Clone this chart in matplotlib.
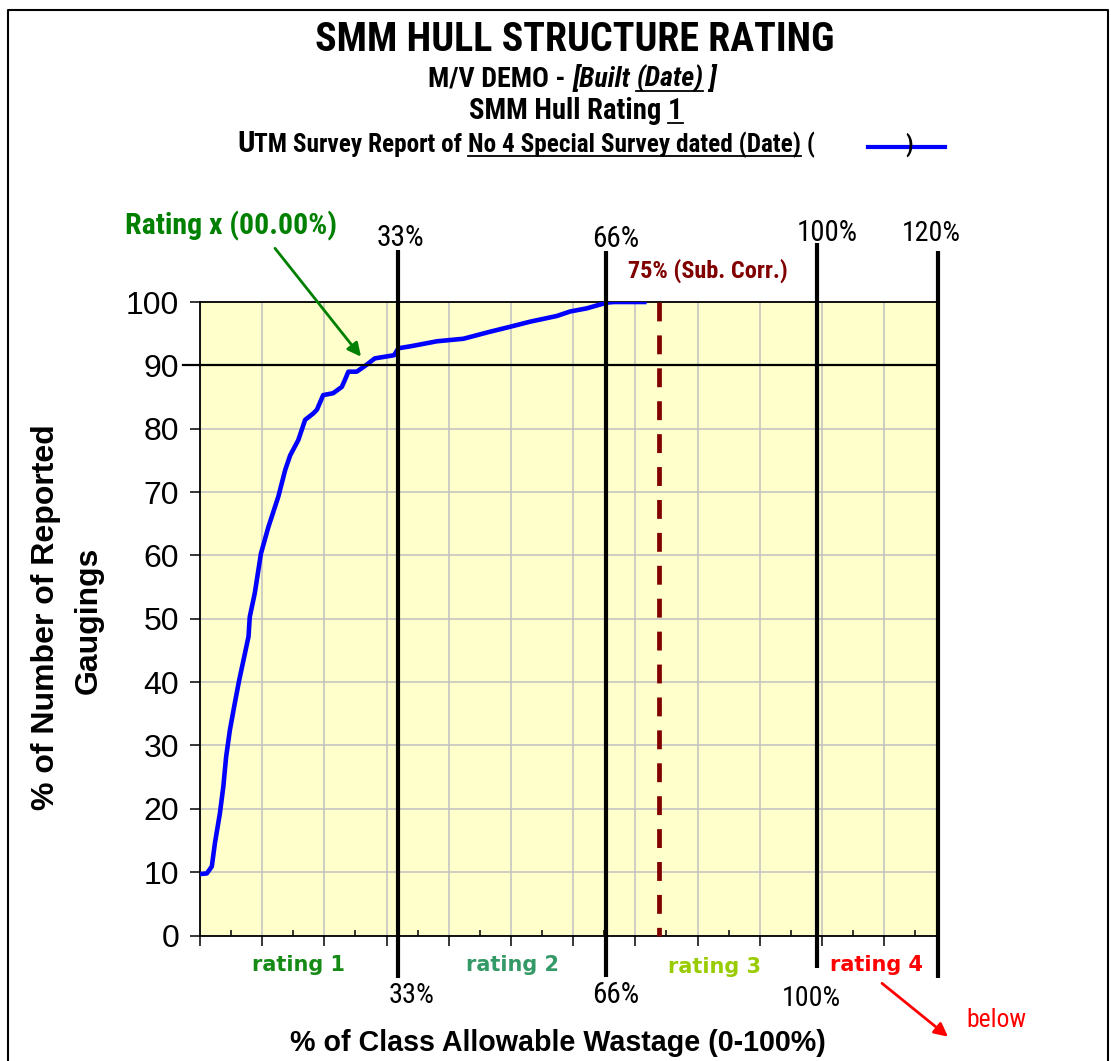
import matplotlib
matplotlib.use('Agg')
import matplotlib.pyplot as plt
from matplotlib import font_manager as fm
from matplotlib.lines import Line2D
from matplotlib.transforms import IdentityTransform, blended_transform_factory
from matplotlib.ticker import MultipleLocator, NullFormatter, FixedLocator

# ---------------- data ----------------
wastage = [0, 1.1, 1.9, 2.4, 3.2, 3.75, 4.2, 4.8, 5.6, 6.3, 7.0, 7.8, 8.0, 8.8, 9.8,
           11.0, 12.6, 13.7, 14.5, 15.8, 16.9, 18.2, 18.8, 19.8, 21.4, 22.8, 23.3,
           23.85, 25.2, 26.8, 28.1, 30.6, 31.2, 31.9, 33.8, 38.1, 42.35, 46.6, 49.9,
           53.1, 57.4, 59.5, 62.2, 65.4, 66.5, 71.8]
gaugings = [9.7, 9.8, 10.9, 14.6, 19.3, 23.5, 28.2, 32.4, 36.7, 40.3, 43.5, 47.2, 50.3,
            54.0, 60.3, 64.5, 69.3, 73.5, 75.8, 78.2, 81.4, 82.4, 83.0, 85.3, 85.6,
            86.6, 87.7, 89.0, 89.0, 90.1, 91.1, 91.5, 91.6, 92.7, 93.0, 93.8, 94.2,
            95.3, 96.1, 96.9, 97.8, 98.5, 99.0, 99.9, 100.0, 100.0]
threshold_labels = ['33%', '66%', '100%', '120%']
threshold_x = [31.8, 65.3, 99.2, 118.7]
sub_corr_x = 73.8
sub_corr_label = '75% (Sub. Corr.)'
rating_labels = ['rating 1', 'rating 2', 'rating 3', 'rating 4']
y_ticks = [0, 10, 20, 30, 40, 50, 60, 70, 80, 90, 100]
x_max = 118.7
ref_level = 90

# ---------------- fonts ----------------
avail = {f.name for f in fm.fontManager.ttflist}
narrow_name = 'DejaVu Sans'
for cand in ['Liberation Sans Narrow', 'Arial Narrow', 'Roboto Condensed',
             'Barlow Semi Condensed', 'Asap Condensed']:
    if cand in avail:
        narrow_name = cand
        break
NARROW = [narrow_name, 'Liberation Sans', 'DejaVu Sans']
ARIAL = ['Liberation Sans', 'DejaVu Sans']
VERD = ['DejaVu Sans']

W, H = 1111, 1061
fig = plt.figure(figsize=(W / 100, H / 100), dpi=100)
fig.patch.set_facecolor('white')
renderer = fig.canvas.get_renderer()


def fx(x):
    return x / W


def fy(y):
    return 1 - y / H


def place(x, y, s, target_w, size0, ha='left', **props):
    """Figure text at pixel (x, baseline y), font size fitted to target width."""
    t = fig.text(fx(x), fy(y), s, ha=ha, va='baseline', fontsize=size0, **props)
    w = t.get_window_extent(renderer).width
    t.set_fontsize(size0 * target_w / w)
    return t


ax = fig.add_axes([fx(200), fy(935.5), (938.3 - 200) / W, (935.5 - 302) / H])
ax.set_facecolor('#FFFFCC')
ax.set_xlim(0, x_max)
ax.set_ylim(0, 100)
ax.xaxis.set_major_locator(MultipleLocator(10))
ax.xaxis.set_minor_locator(MultipleLocator(5))
ax.xaxis.set_major_formatter(NullFormatter())
ax.yaxis.set_major_locator(FixedLocator(y_ticks))
ax.set_yticklabels([str(v) for v in y_ticks], fontfamily=ARIAL, fontsize=23)
ax.grid(which='major', color='#c0c0c0', lw=1.1, zorder=0)
ax.set_axisbelow(True)
ax.tick_params(axis='x', which='major', direction='out', length=7, width=1.1)
ax.tick_params(axis='x', which='minor', direction='in', length=4.5, width=1.1)
ax.tick_params(axis='y', which='major', direction='out', length=7, width=1.1, pad=8)
for s in ['left', 'bottom', 'top', 'right']:
    ax.spines[s].set_color('black')
    ax.spines[s].set_linewidth(1.3)

# curve
ax.plot(wastage, gaugings, color='#0000FF', lw=3.3, zorder=5, solid_joinstyle='round',
        solid_capstyle='butt')

# 90% reference line
ref_tr = blended_transform_factory(fig.transFigure, ax.transData)
ax.plot([fx(183), fx(938.3)], [ref_level, ref_level], transform=ref_tr, color='black',
        lw=1.6, clip_on=False, zorder=6)

# vertical threshold lines
vt = blended_transform_factory(ax.transData, fig.transFigure)
line_spans = [(250, 978), (251, 977), (243, 968), (251, 978)]
for xv, (y0, y1) in zip(threshold_x, line_spans):
    ax.plot([xv, xv], [fy(y0), fy(y1)], transform=vt, color='black', lw=3.0,
            clip_on=False, zorder=7, solid_capstyle='butt')

# sub corrosion dashed line
ax.plot([sub_corr_x, sub_corr_x], [100, 0], color='#800000', lw=3.4,
        linestyle=(0, (4.0, 2.97)), zorder=6, clip_on=False)

# threshold labels (top and bottom)
top_pos = [(400, 246, 48), (616, 247, 47), (827, 241, 61), (931, 241, 59)]
for lab, (px, py, tw) in zip(threshold_labels, top_pos):
    place(px, py, lab, tw, 20, ha='center', fontfamily=NARROW, color='black')
bot_pos = [(412, 1003, 46), (616, 1003, 47), (811, 1006, 59)]
for lab, (px, py, tw) in zip(threshold_labels[:3], bot_pos):
    place(px, py, lab, tw, 20, ha='center', fontfamily=NARROW, color='black')

place(628, 278, sub_corr_label, 160, 17, fontweight='bold', fontfamily=NARROW,
      color='#800000')

# rating labels
rating_colors = ['#158a15', '#339966', '#99cc00', '#ff0000']
rating_pos = [(298, 971), (513, 971), (715, 973), (876, 971)]
for lab, c, (px, py) in zip(rating_labels, rating_colors, rating_pos):
    fig.text(fx(px), fy(py), lab, ha='center', va='baseline', fontsize=15,
             fontweight='bold', fontfamily=VERD, color=c)

# rating x annotation
place(125, 234, 'Rating x (00.00%)', 212, 20, fontweight='bold', fontfamily=NARROW,
      color='#008000')
ax.annotate('', xy=(361, H - 356.7), xycoords='figure pixels', xytext=(275, H - 248.3),
            textcoords='figure pixels',
            arrowprops=dict(arrowstyle='-|>', color='#008000', lw=2,
                            mutation_scale=20, shrinkA=0, shrinkB=0), zorder=8)

# below annotation
place(966, 1027, 'below', 60, 18, fontfamily=NARROW, color='#ff0000')
ax.annotate('', xy=(948, H - 1036.7), xycoords='figure pixels', xytext=(882, H - 983.3),
            textcoords='figure pixels',
            arrowprops=dict(arrowstyle='-|>', color='#ff0000', lw=2,
                            mutation_scale=20, shrinkA=0, shrinkB=0), zorder=8)

# axis labels
place(558, 1051, '% of Class Allowable Wastage (0-100%)', 535, 20, ha='center',
      fontweight='bold', fontfamily=ARIAL)
fig.text(fx(46), fy(617), '% of Number of Reported', ha='center', va='center',
         rotation=90, fontsize=23, fontweight='bold', fontfamily=ARIAL)
fig.text(fx(89), fy(620), 'Gaugings', ha='center', va='center',
         rotation=90, fontsize=23, fontweight='bold', fontfamily=ARIAL)


# ---------------- title block ----------------
def text_run(pieces, y_base, target_w, x_left=None, x_center=None):
    arts, widths = [], []
    for s, props, ul in pieces:
        t = fig.text(0, fy(y_base), s, va='baseline', ha='left', **props)
        arts.append(t)
        widths.append(t.get_window_extent(renderer).width)
    k = target_w / sum(widths)
    widths = []
    for t in arts:
        t.set_fontsize(t.get_fontsize() * k)
        widths.append(t.get_window_extent(renderer).width)
    total = sum(widths)
    x = x_left if x_left is not None else x_center - total / 2
    for t, w, (s, props, ul) in zip(arts, widths, pieces):
        t.set_x(fx(x))
        if ul:
            yl = H - (y_base + 4)
            fig.add_artist(Line2D([x, x + w], [yl, yl], transform=IdentityTransform(),
                                  color='black', lw=1.3))
        x += w
    return x


B = dict(fontweight='bold', fontfamily=NARROW, color='black')
place(575, 51, 'SMM HULL STRUCTURE RATING', 520, 24, ha='center', **B)
text_run([('M/V DEMO - ', dict(fontsize=16, **B), False),
          ('[Built ', dict(fontsize=16, style='italic', **B), False),
          ('(Date)', dict(fontsize=16, style='italic', **B), True),
          (' ]', dict(fontsize=16, style='italic', **B), False)], 87, 289, x_center=572.5)
text_run([('SMM Hull Rating ', dict(fontsize=17, **B), False),
          ('1', dict(fontsize=17, **B), True)], 119, 214, x_center=576)
text_run([('U', dict(fontsize=18, **B), False),
          ('TM Survey Report of ', dict(fontsize=15, **B), False),
          ('No 4 Special Survey dated (Date)', dict(fontsize=15, **B), True),
          (' (', dict(fontsize=15, **B), False)], 152, 578, x_left=237)
fig.add_artist(Line2D([868, 945], [H - 147, H - 147], transform=IdentityTransform(),
                      color='#0000FF', lw=3))
fig.text(fx(905), fy(152), ')', ha='left', va='baseline', fontsize=17, **B)

# outer frame
fig.add_artist(Line2D([8, 8, 1108, 1108], [-5, H - 10, H - 10, -5],
                      transform=IdentityTransform(), color='black', lw=1.5))

fig.savefig('out.png', dpi=100)
